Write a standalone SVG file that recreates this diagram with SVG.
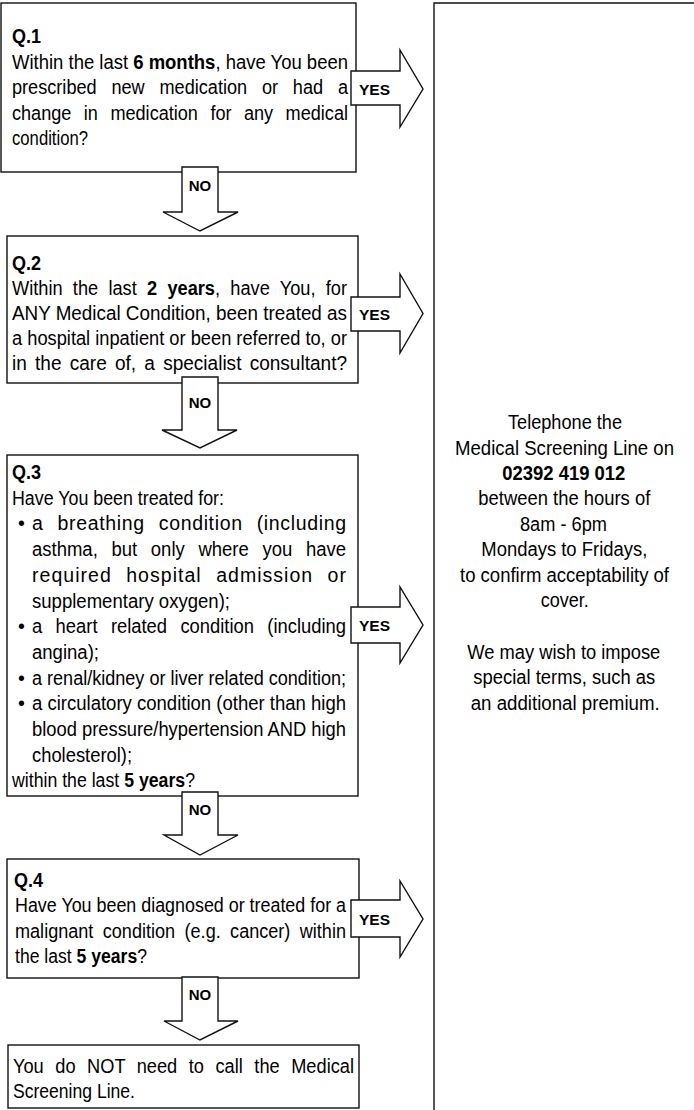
<svg xmlns="http://www.w3.org/2000/svg" width="694" height="1110" viewBox="0 0 694 1110">
<style>
.box{fill:#fff;stroke:#111;stroke-width:1.4}
.arr{fill:#fff;stroke:#111;stroke-width:1.4;stroke-linejoin:miter}
.t{font-family:"Liberation Sans",Arial,sans-serif;font-size:19.5px;fill:#000}
.b{font-weight:bold}
.lbl{font-family:"Liberation Sans",Arial,sans-serif;font-size:15px;font-weight:bold;fill:#000}
</style>
<rect width="694" height="1110" fill="#fff"/>
<g id="info">
<path class="box" d="M434,1114 V3 H700" fill="none"/>
<text class="t" x="508" y="429" textLength="114" lengthAdjust="spacingAndGlyphs">Telephone the</text>
<text class="t" x="455" y="454.5" textLength="219" lengthAdjust="spacingAndGlyphs">Medical Screening Line on</text>
<text class="t b" x="502.3" y="480" textLength="123" lengthAdjust="spacingAndGlyphs">02392 419 012</text>
<text class="t" x="478.3" y="505" textLength="172" lengthAdjust="spacingAndGlyphs">between the hours of</text>
<text class="t" x="520" y="530.5" textLength="87" lengthAdjust="spacingAndGlyphs">8am - 6pm</text>
<text class="t" x="481.3" y="556" textLength="166" lengthAdjust="spacingAndGlyphs">Mondays to Fridays,</text>
<text class="t" x="460" y="581.5" textLength="209" lengthAdjust="spacingAndGlyphs">to confirm acceptability of</text>
<text class="t" x="540.7" y="607" textLength="48" lengthAdjust="spacingAndGlyphs">cover.</text>
<text class="t" x="467.3" y="658.5" textLength="193" lengthAdjust="spacingAndGlyphs">We may wish to impose</text>
<text class="t" x="473.3" y="684" textLength="182" lengthAdjust="spacingAndGlyphs">special terms, such as</text>
<text class="t" x="470.7" y="709.5" textLength="189" lengthAdjust="spacingAndGlyphs">an additional premium.</text>
</g>
<g id="q1">
<rect class="box" x="1" y="3" width="355" height="169"/>
<text class="t b" x="12" y="43" textLength="29" lengthAdjust="spacingAndGlyphs">Q.1</text>
<text class="t" x="12" y="68.5" textLength="336" lengthAdjust="spacingAndGlyphs">Within the last <tspan class="b">6 months</tspan>, have You been</text>
<text class="t" x="12" y="94" textLength="336" lengthAdjust="spacingAndGlyphs" word-spacing="10.5">prescribed new medication or had a</text>
<text class="t" x="12" y="119.5" textLength="336" lengthAdjust="spacingAndGlyphs" word-spacing="8">change in medication for any medical</text>
<text class="t" x="12" y="145" textLength="76" lengthAdjust="spacingAndGlyphs">condition?</text>
</g>
<g id="q2">
<rect class="box" x="7" y="236" width="351" height="147"/>
<text class="t b" x="12" y="270" textLength="29" lengthAdjust="spacingAndGlyphs">Q.2</text>
<text class="t" x="12" y="295" textLength="335" lengthAdjust="spacingAndGlyphs" word-spacing="5.6">Within the last <tspan class="b">2 years</tspan>, have You, for</text>
<text class="t" x="12" y="320" textLength="335" lengthAdjust="spacingAndGlyphs">ANY Medical Condition, been treated as</text>
<text class="t" x="12" y="345" textLength="335" lengthAdjust="spacingAndGlyphs">a hospital inpatient or been referred to, or</text>
<text class="t" x="12" y="370" textLength="335" lengthAdjust="spacingAndGlyphs" word-spacing="3">in the care of, a specialist consultant?</text>
</g>
<g id="q3">
<rect class="box" x="7" y="455" width="351" height="341"/>
<text class="t b" x="12" y="479" textLength="29" lengthAdjust="spacingAndGlyphs">Q.3</text>
<text class="t" x="12" y="504.7" textLength="212" lengthAdjust="spacingAndGlyphs">Have You been treated for:</text>
<text class="t" x="18" y="530.4">•</text>
<text class="t" x="32" y="530.4" textLength="314" lengthAdjust="spacing" word-spacing="8">a breathing condition (including</text>
<text class="t" x="32" y="556.1" textLength="314" lengthAdjust="spacingAndGlyphs" word-spacing="9">asthma, but only where you have</text>
<text class="t" x="32" y="581.8" textLength="314" lengthAdjust="spacing" word-spacing="8">required hospital admission or</text>
<text class="t" x="32" y="607.5" textLength="198" lengthAdjust="spacingAndGlyphs">supplementary oxygen);</text>
<text class="t" x="18" y="633.2">•</text>
<text class="t" x="32" y="633.2" textLength="314" lengthAdjust="spacingAndGlyphs" word-spacing="8.8">a heart related condition (including</text>
<text class="t" x="32" y="658.9" textLength="67" lengthAdjust="spacingAndGlyphs">angina);</text>
<text class="t" x="18" y="684.6">•</text>
<text class="t" x="32" y="684.6" textLength="314" lengthAdjust="spacingAndGlyphs">a renal/kidney or liver related condition;</text>
<text class="t" x="18" y="710.3">•</text>
<text class="t" x="32" y="710.3" textLength="314" lengthAdjust="spacingAndGlyphs">a circulatory condition (other than high</text>
<text class="t" x="32" y="736" textLength="314" lengthAdjust="spacingAndGlyphs">blood pressure/hypertension AND high</text>
<text class="t" x="32" y="761.7" textLength="100" lengthAdjust="spacingAndGlyphs">cholesterol);</text>
<text class="t" x="12" y="787.4" textLength="183" lengthAdjust="spacingAndGlyphs">within the last <tspan class="b">5 years</tspan>?</text>
</g>
<g id="q4">
<rect class="box" x="7" y="859" width="352" height="119"/>
<text class="t b" x="14" y="887" textLength="29" lengthAdjust="spacingAndGlyphs">Q.4</text>
<text class="t" x="15" y="912" textLength="331" lengthAdjust="spacingAndGlyphs">Have You been diagnosed or treated for a</text>
<text class="t" x="15" y="937.5" textLength="331" lengthAdjust="spacingAndGlyphs" word-spacing="4.7">malignant condition (e.g. cancer) within</text>
<text class="t" x="15" y="963" textLength="132" lengthAdjust="spacingAndGlyphs">the last <tspan class="b">5 years</tspan>?</text>
</g>
<g id="end">
<rect class="box" x="8" y="1045" width="351" height="63"/>
<text class="t" x="13" y="1073" textLength="341" lengthAdjust="spacingAndGlyphs" word-spacing="6.9">You do NOT need to call the Medical</text>
<text class="t" x="13" y="1098" textLength="122" lengthAdjust="spacingAndGlyphs">Screening Line.</text>
</g>
<g id="connectors">
<polygon class="arr" points="351,71 400,71 400,50 423,89 400,127 400,105 351,105"/>
<text class="lbl" x="359" y="95" textLength="31" lengthAdjust="spacingAndGlyphs">YES</text>
<polygon class="arr" points="182,167 218,167 218,212 238,212 200,231 163,212 182,212"/>
<text class="lbl" x="200" y="191" text-anchor="middle">NO</text>
<polygon class="arr" points="351,297 400,297 400,274 423,313.5 400,353 400,331 351,331"/>
<text class="lbl" x="359" y="320" textLength="31" lengthAdjust="spacingAndGlyphs">YES</text>
<polygon class="arr" points="182,377 218,377 218,430 237,430 200,448 162,430 182,430"/>
<text class="lbl" x="200" y="408" text-anchor="middle">NO</text>
<polygon class="arr" points="351,607 400,607 400,587 423,625 400,663 400,643 351,643"/>
<text class="lbl" x="359" y="631" textLength="31" lengthAdjust="spacingAndGlyphs">YES</text>
<polygon class="arr" points="182,792 218,792 218,835 238,835 200,855 164,835 182,835"/>
<text class="lbl" x="200" y="815" text-anchor="middle">NO</text>
<polygon class="arr" points="351,900 400,900 400,881 423,919 400,957 400,937 351,937"/>
<text class="lbl" x="359" y="925" textLength="31" lengthAdjust="spacingAndGlyphs">YES</text>
<polygon class="arr" points="182,977 218,977 218,1021 238,1021 200,1040 164,1021 182,1021"/>
<text class="lbl" x="200" y="1000" text-anchor="middle">NO</text>
</g>
</svg>
